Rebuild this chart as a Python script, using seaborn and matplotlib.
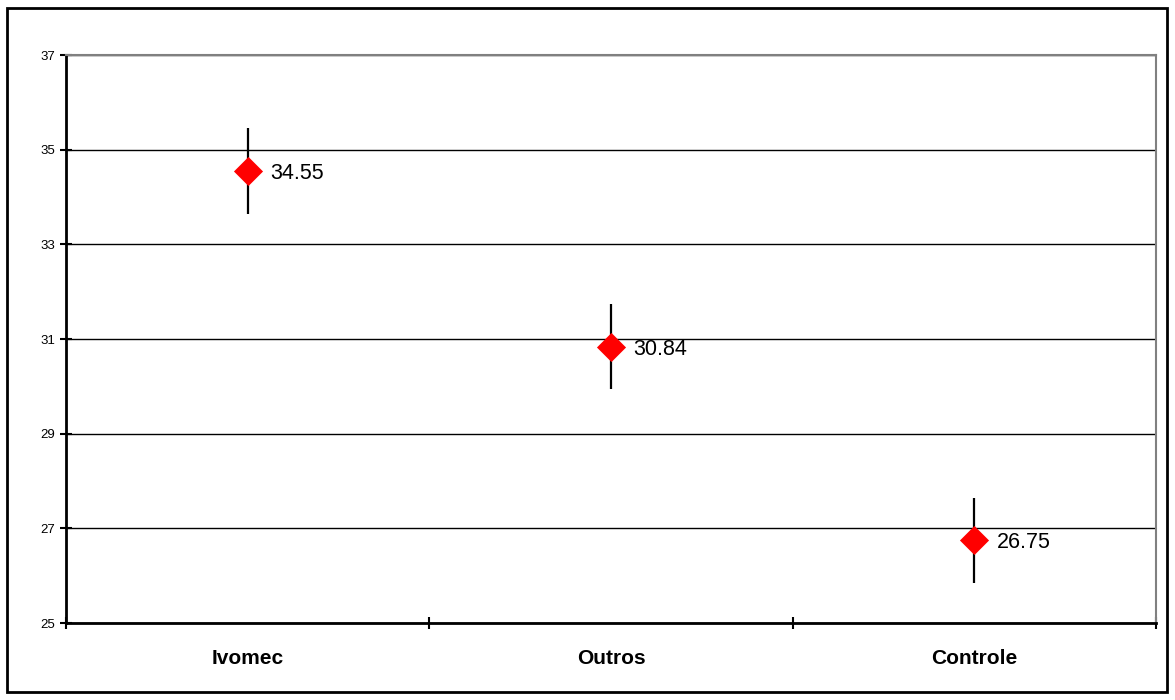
import matplotlib
matplotlib.use('Agg')
import matplotlib.pyplot as plt
import seaborn as sns
import pandas as pd
from matplotlib.patches import Rectangle

groups = ['Ivomec', 'Outros', 'Controle']
means = [34.55, 30.84, 26.75]
errors = [0.9, 0.9, 0.9]
y_ticks = [25, 27, 29, 31, 33, 35, 37]

df = pd.DataFrame({'grupo': groups, 'media': means, 'erro': errors})
df['pos'] = range(len(df))

sns.set_style('white')
plt.rcParams['font.family'] = ['Liberation Sans', 'DejaVu Sans']
plt.rcParams['text.color'] = 'black'
plt.rcParams['xtick.color'] = 'black'
plt.rcParams['ytick.color'] = 'black'

fig = plt.figure(figsize=(11.75, 7), dpi=100)
ax = fig.add_axes([66 / 1175, 1 - 623 / 700, (1156 - 66) / 1175, (623 - 55) / 700])

ax.errorbar(df['pos'], df['media'], yerr=df['erro'], fmt='none',
            ecolor='black', elinewidth=1.6, capsize=0, zorder=3)
sns.scatterplot(data=df, x='pos', y='media', marker='D', color='#ff0000',
                s=220, linewidth=0, ax=ax, zorder=4, legend=False)

for _, r in df.iterrows():
    ax.annotate(f"{r['media']:.2f}", (r['pos'], r['media']), xytext=(16, 0),
                textcoords='offset points', va='center_baseline', ha='left',
                fontsize=15.5, color='black')

ax.set_xlim(-0.5, len(groups) - 0.5)
ax.set_ylim(25, 37)
ax.set_yticks(y_ticks)
ax.set_yticklabels([str(t) for t in y_ticks], fontsize=9.5)
ax.set_xticks([i + 0.5 for i in range(-1, len(groups))])
ax.set_xticklabels([])
ax.tick_params(axis='both', direction='inout', length=9, width=1.5,
               color='black', bottom=True, left=True)
for i, g in enumerate(groups):
    ax.text(i, -0.045, g, transform=ax.get_xaxis_transform(), ha='center',
            va='top', fontsize=15, fontweight='bold', color='black')

ax.grid(axis='y', color='black', linewidth=1)
ax.set_axisbelow(True)
for s in ['top', 'right']:
    ax.spines[s].set_color('#808080')
    ax.spines[s].set_linewidth(1.5)
for s in ['left', 'bottom']:
    ax.spines[s].set_color('black')
    ax.spines[s].set_linewidth(2)
ax.set_xlabel('')
ax.set_ylabel('')

fig.patches.append(Rectangle((7 / 1175, 8 / 700), 1160 / 1175, 684 / 700,
                             transform=fig.transFigure, fill=False,
                             edgecolor='black', linewidth=2))

fig.savefig('out.png', dpi=100)
